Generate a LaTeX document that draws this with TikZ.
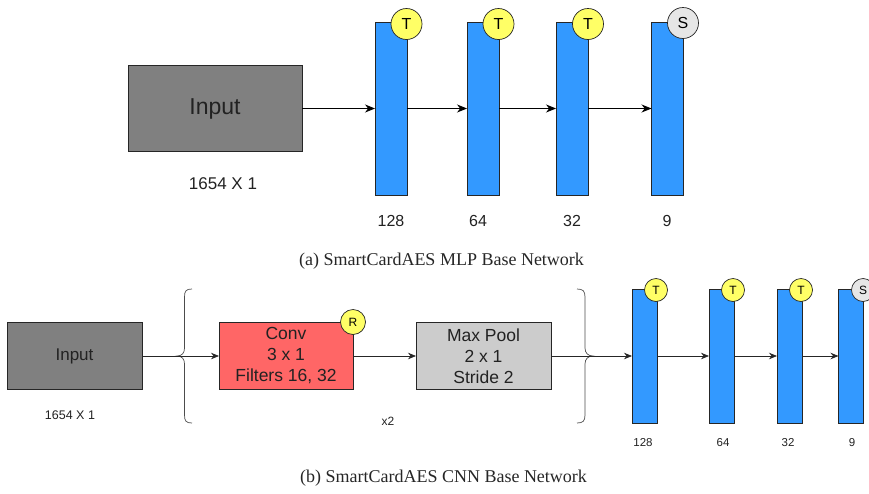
\documentclass[tikz,border=0pt]{standalone}
\usepackage{fontspec}
\setmainfont{Liberation Serif}
\newfontfamily\arialf{Liberation Sans}
\usetikzlibrary{arrows.meta}
\definecolor{barblue}{HTML}{3399FF}
\definecolor{inpgray}{HTML}{808080}
\definecolor{convred}{HTML}{FF6666}
\definecolor{poolgray}{HTML}{CCCCCC}
\definecolor{tyellow}{HTML}{FFFF66}
\definecolor{sgray}{HTML}{E6E6E6}
\definecolor{txt}{HTML}{222222}
\begin{document}
\begin{tikzpicture}[x=1pt,y=-1pt,
  lbl/.style={font=\arialf\fontsize{#1}{#1}\selectfont, text=txt, inner sep=0},
  box/.style={draw=black!85, line width=0.8pt, inner sep=0, outer sep=0, align=center, text=txt},
  barbox/.style={draw=black!85, fill=barblue, line width=0.8pt, inner sep=0, outer sep=0, minimum width=#1},
  badge/.style={circle, draw=black!85, line width=0.7pt, inner sep=0, minimum size=#1},
  arr/.style={draw=black, line width=0.8pt, -{Stealth[length=10pt,width=8pt]}},
  arrs/.style={draw=black!85, line width=0.8pt, -{Stealth[length=8pt,width=6.5pt]}},
  brc/.style={draw=black!70, line width=0.7pt},
  captext/.style={font=\fontsize{18}{18}\selectfont, text=black!85, inner sep=0}
]
\useasboundingbox (0,0) rectangle (869,493);

% ---------------- (a) MLP ----------------
\node[box, fill=inpgray, minimum width=174, minimum height=86,
      font=\arialf\fontsize{23}{23}\selectfont] (ainput) at (215,108.5) {Input};
\node[lbl=17] (adim) at (223,184) {1654 X 1};

\node[barbox=32, minimum height=173] (a1) at (391,108.5) {};
\node[barbox=32, minimum height=173] (a2) at (483,108.5) {};
\node[barbox=32, minimum height=173] (a3) at (572,108.5) {};
\node[barbox=32, minimum height=173] (a4) at (667.5,108.5) {};

\node[badge=31, fill=tyellow, font=\arialf\fontsize{16}{16}\selectfont] (at1) at (406.5,24) {T};
\node[badge=31, fill=tyellow, font=\arialf\fontsize{16}{16}\selectfont] (at2) at (498.5,24) {T};
\node[badge=31, fill=tyellow, font=\arialf\fontsize{16}{16}\selectfont] (at3) at (588,24) {T};
\node[badge=31, fill=sgray, font=\arialf\fontsize{16}{16}\selectfont] (as4) at (683,23) {S};

\draw[arr] (ainput.east) -- (a1.west);
\draw[arr] (a1.east) -- (a2.west);
\draw[arr] (a2.east) -- (a3.west);
\draw[arr] (a3.east) -- (a4.west);

\node[lbl=16] (al1) at (391,221) {128};
\node[lbl=16] (al2) at (478,221) {64};
\node[lbl=16] (al3) at (572,221) {32};
\node[lbl=16] (al4) at (667,221) {9};

\node[captext] (capa) at (441.5,261) {(a) SmartCardAES MLP Base Network};

% ---------------- (b) CNN ----------------
\node[box, fill=inpgray, minimum width=135, minimum height=67,
      font=\arialf\fontsize{17}{17}\selectfont] (binput) at (74.5,356) {Input};
\node[lbl=12.5] (bdim) at (70,415) {1654 X 1};

\node[box, fill=convred, minimum width=134, minimum height=67,
      font=\arialf\fontsize{17.5}{21}\selectfont] (conv) at (286,356) {Conv\\3 x 1\\Filters 16, 32};
\node[badge=25, fill=tyellow, font=\arialf\fontsize{12}{12}\selectfont] (rbadge) at (353,322) {R};

\node[box, fill=poolgray, minimum width=135, minimum height=67,
      font=\arialf\fontsize{17.5}{21}\selectfont] (pool) at (483.5,356) {Max Pool\\2 x 1\\Stride 2};

% braces
\coordinate (lbt) at (177,356);
\coordinate (rbt) at (593,356);
\draw[brc] (192,289) .. controls (186,289) and (184.5,291) .. (184.5,297)
  -- (184.5,348) .. controls (184.5,353) and (182,356) .. (lbt)
  .. controls (182,356) and (184.5,359) .. (184.5,364)
  -- (184.5,415) .. controls (184.5,421) and (186,423) .. (192,423);
\draw[brc] (577,289) .. controls (583,289) and (585,291) .. (585,297)
  -- (585,348) .. controls (585,353) and (588,356) .. (rbt)
  .. controls (588,356) and (585,359) .. (585,364)
  -- (585,415) .. controls (585,421) and (583,423) .. (577,423);
\node[lbl=12] (xtwo) at (388,421) {x2};

\node[barbox=25, minimum height=134] (b1) at (644.5,356) {};
\node[barbox=25, minimum height=134] (b2) at (721.5,356) {};
\node[barbox=25, minimum height=134] (b3) at (789.5,356) {};
\node[barbox=25, minimum height=134] (b4) at (851,356) {};

\node[badge=23, fill=tyellow, font=\arialf\fontsize{12}{12}\selectfont] (bt1) at (656,290) {T};
\node[badge=23, fill=tyellow, font=\arialf\fontsize{12}{12}\selectfont] (bt2) at (733,290) {T};
\node[badge=23, fill=tyellow, font=\arialf\fontsize{12}{12}\selectfont] (bt3) at (801,290) {T};
\node[badge=23, fill=sgray, font=\arialf\fontsize{12}{12}\selectfont] (bs4) at (863,290) {S};

\draw[arrs] (binput.east) -- (conv.west);
\draw[arrs] (conv.east) -- (pool.west);
\draw[arrs] (pool.east) -- (b1.west);
\draw[arrs] (b1.east) -- (b2.west);
\draw[arrs] (b2.east) -- (b3.west);
\draw[arrs] (b3.east) -- (b4.west);

\node[lbl=11.5] (bl1) at (643,443) {128};
\node[lbl=11.5] (bl2) at (723,443) {64};
\node[lbl=11.5] (bl3) at (788,443) {32};
\node[lbl=11.5] (bl4) at (852,443) {9};

\node[captext] (capb) at (443.5,478) {(b) SmartCardAES CNN Base Network};
\end{tikzpicture}
\end{document}
